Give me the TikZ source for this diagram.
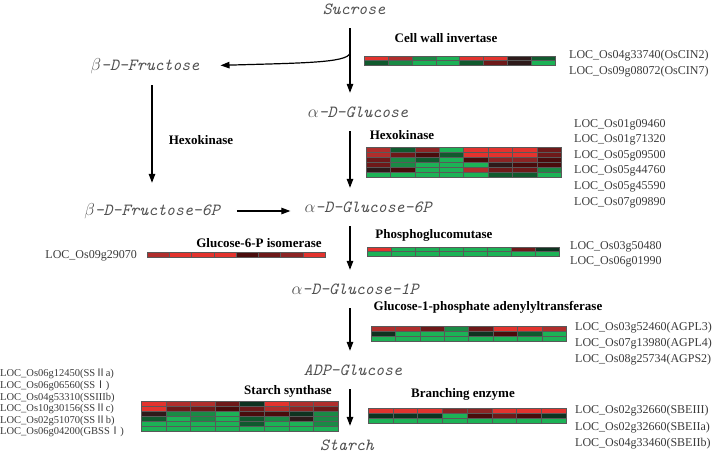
\documentclass[tikz,border=0pt]{standalone}
\usepackage{fontspec}
\setmainfont{Liberation Serif}
\newfontfamily\cjk{Noto Sans CJK SC}
\usetikzlibrary{arrows.meta}

\definecolor{hR}{HTML}{E3332E}
\definecolor{hr}{HTML}{B02E2C}
\definecolor{hmr}{HTML}{8C2424}
\definecolor{hdr}{HTML}{6E1919}
\definecolor{hbk}{HTML}{4A0C0C}
\definecolor{hk}{HTML}{2E1A1A}
\definecolor{hkg}{HTML}{0F3320}
\definecolor{hdg}{HTML}{105A2E}
\definecolor{hg}{HTML}{1A8A45}
\definecolor{hG}{HTML}{1CB256}
\definecolor{metgray}{HTML}{505050}
\definecolor{locgray}{HTML}{3A3A3A}

% x, y (top), width, row height, rows of colours
\newcommand{\heatmap}[5]{%
  \foreach \row [count=\j from 0] in {#5}{
    \foreach \c [count=\i from 0] in \row{
      \filldraw[fill=\c, draw=black!65, line width=0.25pt]
        ({#1+\i*#3/8},{#2+\j*#4}) rectangle ++({#3/8},#4);
    }
  }
}
\newcommand{\rn}[1]{{\cjk #1}}
\newcommand{\tightlines}{\setlength{\lineskiplimit}{-10pt}}

\begin{document}
\begin{tikzpicture}[x=1pt,y=-1pt]
\tikzset{met/.style={font=\fontsize{17}{20}\selectfont\ttfamily\itshape, text=metgray, minimum height=38pt, inner sep=0pt}}
\tikzset{enz/.style={font=\fontsize{13}{15}\selectfont\bfseries, inner sep=0pt}}
\tikzset{genes/.style={font=\fontsize{12}{15.8}\selectfont, text=locgray, align=left, anchor=north west, inner sep=0pt}}
\tikzset{flow/.style={-{Triangle[length=9pt,width=6.5pt]}, line width=1.2pt}}
\useasboundingbox (0,0) rectangle (724,453);

% metabolites
\node[met] (suc) at (354,9) {Sucrose};
\node[met] (fru) at (145,66) {$\beta$-D-Fructose};
\node[met] (glc) at (358,112) {$\alpha$-D-Glucose};
\node[met] (fru6p) at (152,211) {$\beta$-D-Fructose-6P};
\node[met] (g6p) at (368,207) {$\alpha$-D-Glucose-6P};
\node[met] (g1p) at (355,289) {$\alpha$-D-Glucose-1P};
\node[met] (adp) at (353,370) {ADP-Glucose};
\node[met] (sta) at (347,445) {Starch};

% arrows
\coordinate (spine) at (350,0);
\coordinate (branch) at (350,53);
\draw[flow] (suc.south -| spine) -- (glc.north -| spine);
\draw[flow, shorten >=21pt] (branch) .. controls (348,63) and (300,63) .. (fru.east);
\draw[flow, shorten >=9pt] (fru.south -| fru6p.north) -- (fru6p.north);
\draw[flow, shorten <=17pt, shorten >=14pt] (fru6p.east) -- (fru6p.east -| g6p.west);
\draw[flow] (glc.south -| spine) -- (g6p.north -| spine);
\draw[flow] (g6p.south -| spine) -- (g1p.north -| spine);
\draw[flow] (g1p.south -| spine) -- (adp.north -| spine);
\draw[flow] (adp.south -| spine) -- (sta.north -| spine);

% enzymes
\node[enz] (cwi) at (446,38) {Cell wall invertase};
\node[enz] (hxk1) at (201,140) {Hexokinase};
\node[enz] (hxk2) at (402,135) {Hexokinase};
\node[enz] (gpi) at (259,243) {Glucose-6-P isomerase};
\node[enz] (pgm) at (434,235) {Phosphoglucomutase};
\node[enz] (agp) at (488,307) {Glucose-1-phosphate adenylyltransferase};
\node[enz] (ss) at (288,391) {Starch synthase};
\node[enz] (sbe) at (463,394) {Branching enzyme};

% heatmaps
\heatmap{364}{56}{191}{4.5}{{hR,hr,hg,hG,hR,hR,hk,hdg},{hdg,hg,hG,hG,hdg,hdr,hk,hG}}
\heatmap{366}{147}{195}{5}{{hr,hdg,hmr,hG,hR,hR,hR,hdr},
  {hr,hdr,hbk,hdg,hR,hR,hR,hdr},
  {hdr,hg,hdg,hG,hbk,hmr,hmr,hbk},
  {hdr,hg,hG,hG,hG,hk,hbk,hbk},
  {hk,hbk,hG,hG,hr,hdr,hdr,hg},
  {hG,hG,hG,hG,hG,hdg,hdg,hG}}
\heatmap{147}{252}{178}{5}{{hr,hR,hR,hR,hbk,hdr,hmr,hR}}
\heatmap{367}{247}{192}{4.5}{{hR,hG,hG,hG,hG,hG,hdr,hkg},{hG,hG,hG,hG,hG,hG,hG,hG}}
\heatmap{371}{326}{195}{5}{{hr,hr,hdr,hg,hdr,hR,hR,hr},
  {hkg,hG,hG,hG,hkg,hbk,hdg,hG},
  {hG,hG,hG,hG,hG,hG,hG,hG}}
\heatmap{141}{401}{197}{5}{{hR,hr,hr,hdr,hkg,hR,hr,hr},
  {hR,hdr,hdr,hbk,hdr,hr,hmr,hdr},
  {hk,hg,hg,hG,hbk,hbk,hkg,hg},
  {hdg,hG,hg,hG,hdg,hg,hk,hg},
  {hG,hG,hG,hG,hdg,hG,hG,hg},
  {hG,hG,hG,hG,hG,hG,hG,hG}}
\heatmap{368}{408}{198}{5}{{hR,hR,hR,hmr,hmr,hR,hR,hR},
  {hkg,hkg,hkg,hG,hbk,hdr,hbk,hkg},
  {hG,hG,hG,hG,hG,hG,hG,hG}}

% gene labels
\node[genes] (cinlab) at (569,50) {LOC\_Os04g33740(OsCIN2)\\LOC\_Os09g08072(OsCIN7)};
\node[genes, font=\fontsize{12}{15.6}\selectfont] (hxklab) at (574,119) {LOC\_Os01g09460\\LOC\_Os01g71320\\LOC\_Os05g09500\\LOC\_Os05g44760\\LOC\_Os05g45590\\LOC\_Os07g09890};
\node[genes, anchor=east] (gpilab) at (137,256) {LOC\_Os09g29070};
\node[genes] (pgmlab) at (570,241) {LOC\_Os03g50480\\LOC\_Os06g01990};
\node[genes] (agplab) at (575,322) {LOC\_Os03g52460(AGPL3)\\LOC\_Os07g13980(AGPL4)\\LOC\_Os08g25734(AGPS2)};
\node[genes, font=\fontsize{12}{16.5}\selectfont] (sbelab) at (575,405) {LOC\_Os02g32660(SBEIII)\\LOC\_Os02g32660(SBEIIa)\\LOC\_Os04g33460(SBEIIb)};
\node[genes, font=\fontsize{10.5}{11.6}\selectfont] (sslab) at (0,369) {\tightlines LOC\_Os06g12450(SS\rn{Ⅱ}a)\\LOC\_Os06g06560(SS\rn{Ⅰ})\\LOC\_Os04g53310(SSIIIb)\\LOC\_Os10g30156(SS\rn{Ⅱ}c)\\LOC\_Os02g51070(SS\rn{Ⅱ}b)\\LOC\_Os06g04200(GBSS\rn{Ⅰ})};
\end{tikzpicture}
\end{document}
